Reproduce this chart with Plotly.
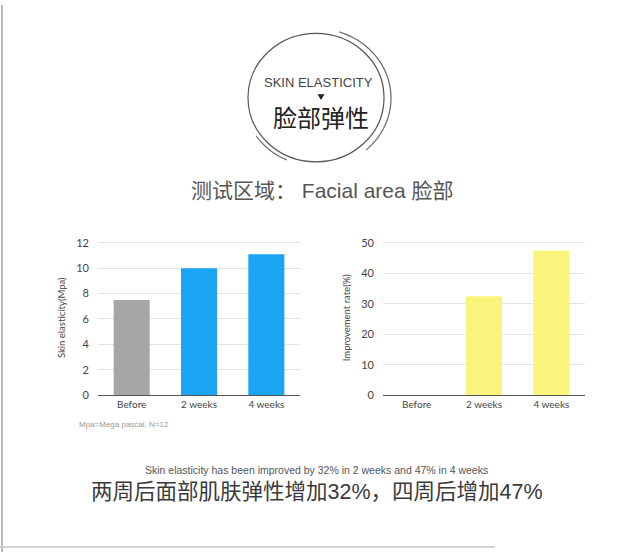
import numpy as np
import plotly.graph_objects as go

# data
categories = ["Before", "2 weeks", "4 weeks"]
elasticity = [7.5, 10.0, 11.1]          # Skin elasticity (Mpa)
improvement = [0, 32.5, 47.5]           # Improvement rate (%)
bar_colors_left = ["#a6a6a6", "#1ba4f2", "#1ba4f2"]
bar_color_right = "#f8f47c"

W, H = 640, 558
CN = "Liberation Sans, Noto Sans CJK SC"
EN = "Lato, Open Sans, sans-serif"


def px(x):
    return x / W


def py(y):
    return 1 - y / H


def arc_path(cx, cy, rx, ry, a0, a1, n=60):
    t = np.radians(np.linspace(a0, a1, n))
    xs = [px(cx + rx * np.cos(a)) for a in t]
    ys = [py(cy - ry * np.sin(a)) for a in t]
    return "M " + " L ".join(f"{x:.4f},{y:.4f}" for x, y in zip(xs, ys))


fig = go.Figure()

fig.add_trace(
    go.Bar(x=categories, y=elasticity,
           marker=dict(color=bar_colors_left, line=dict(width=0)),
           xaxis="x", yaxis="y", showlegend=False)
)
fig.add_trace(
    go.Bar(x=categories, y=improvement,
           marker=dict(color=bar_color_right, line=dict(width=0)),
           xaxis="x2", yaxis="y2", showlegend=False)
)

ydom = [py(398), py(240)]
axis_common = dict(showgrid=False, showline=True, linecolor="#555", linewidth=1.2,
                   ticks="", tickfont=dict(family=EN, size=10, color="#444"))
yaxis_common = dict(showgrid=True, gridcolor="#e3e3e3", gridwidth=1, zeroline=False,
                    ticks="", ticklabelstandoff=8,
                    tickfont=dict(family=EN, size=11, color="#444"),
                    title_font=dict(family=EN, size=9.5, color="#444"),
                    title_standoff=8)

fig.update_layout(
    width=W, height=H,
    margin=dict(l=0, r=0, t=0, b=0),
    paper_bgcolor="white", plot_bgcolor="white",
    bargap=0.465,
    xaxis=dict(domain=[px(98), px(300)], anchor="y", **axis_common),
    yaxis=dict(domain=ydom, anchor="x", range=[0, 12.2], dtick=2,
               title_text="Skin elasticity(Mpa)", **yaxis_common),
    xaxis2=dict(domain=[px(383), px(585)], anchor="y2", **axis_common),
    yaxis2=dict(domain=ydom, anchor="x2", range=[0, 50.85], dtick=10,
                title_text="Improvement rate(%)", **yaxis_common),
)

shapes = [
    # badge circle
    dict(type="circle", xref="paper", yref="paper",
         x0=px(248), x1=px(384), y0=py(160), y1=py(29),
         line=dict(color="#555", width=1.2)),
    dict(type="path", xref="paper", yref="paper",
         path=arc_path(316, 95, 75, 71, 72, -48),
         line=dict(color="#666", width=1.2)),
    dict(type="path", xref="paper", yref="paper",
         path=arc_path(316, 95, 72, 69, 214, 246),
         line=dict(color="#666", width=1.2)),
    # small down triangle
    dict(type="path", xref="paper", yref="paper",
         path=f"M {px(317.5)},{py(91)} L {px(324.5)},{py(91)} L {px(321)},{py(97)} Z",
         fillcolor="#222", line=dict(width=0)),
    # page edges
    dict(type="line", xref="paper", yref="paper",
         x0=px(2), x1=px(2), y0=0, y1=1, line=dict(color="#bbb", width=2)),
    dict(type="line", xref="paper", yref="paper",
         x0=0, x1=px(495), y0=py(553), y1=py(553), line=dict(color="#c4c4c4", width=1.5)),
]
fig.update_layout(shapes=shapes)

texts = [
    ("SKIN ELASTICITY", 318, 79, 13, "#444", "Liberation Sans, Arial"),
    ("脸部弹性", 321, 114, 24, "#222", "Noto Sans CJK SC"),
    ("测试区域： Facial area 脸部", 322, 189, 21, "#555", CN),
    ("Skin elasticity has been improved by 32% in 2 weeks and 47% in 4 weeks",
     316, 474, 10.5, "#555", "Liberation Sans, Arial"),
    ("两周后面部肌肤弹性增加32%，四周后增加47%", 317, 497, 21.5, "#3a3a3a", CN),
]
for t, x, y, s, c, f in texts:
    fig.add_annotation(text=t, x=px(x), y=py(y), xref="paper", yref="paper",
                       showarrow=False, xanchor="center", yanchor="middle",
                       font=dict(family=f, size=s, color=c))

fig.add_annotation(text="Mpa=Mega pascal, N=12", x=px(77), y=py(428),
                   xref="paper", yref="paper", showarrow=False,
                   xanchor="left", yanchor="middle",
                   font=dict(family="Liberation Sans, Arial", size=8, color="#999"))

fig.write_html("out.html", config={"displayModeBar": False},
               post_script="document.body.style.margin='0';")
